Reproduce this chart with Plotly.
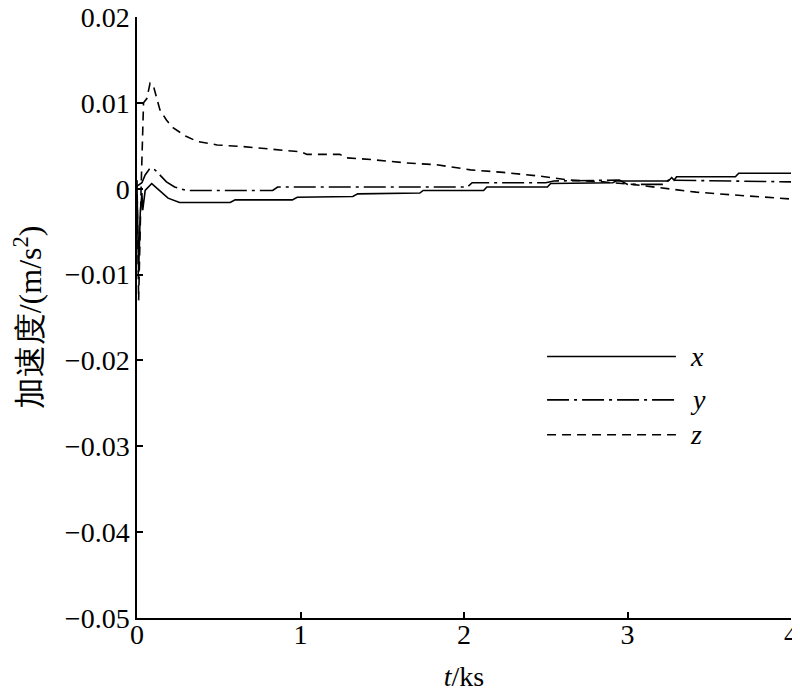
import plotly.graph_objects as go

# time in ks
t_x = [0, 0.01, 0.02, 0.03, 0.035, 0.05, 0.09, 0.19, 0.26, 0.57, 0.60, 0.95, 0.98, 1.32, 1.35,
       1.73, 1.75, 2.12, 2.14, 2.51, 2.53, 2.91, 2.93, 3.25, 3.27, 3.285, 3.30, 3.66, 3.68, 4.0]
acc_x = [0.0, -0.0097, -0.0028, -0.0005, -0.0025, -0.0002, 0.0006, -0.0011, -0.0016, -0.0016,
         -0.0013, -0.0013, -0.0010, -0.0009, -0.0006, -0.0005, -0.0002, -0.0002, 0.0002, 0.0002,
         0.0006, 0.0007, 0.0009, 0.0009, 0.0013, 0.0010, 0.0014, 0.0014, 0.0018, 0.0018]

t_y = [0, 0.03, 0.05, 0.08, 0.11, 0.18, 0.23, 0.30, 0.83, 0.86, 2.02, 2.05, 2.50, 2.55, 2.95,
       3.00, 3.22, 3.25, 4.0]
acc_y = [0.0003, 0.0007, 0.0016, 0.0024, 0.0022, 0.0008, 0.0002, -0.0002, -0.0002, 0.0002,
         0.0002, 0.0007, 0.0007, 0.0009, 0.0010, 0.0005, 0.0005, 0.0010, 0.0008]

t_z = [0, 0.01, 0.025, 0.04, 0.06, 0.08, 0.10, 0.14, 0.18, 0.22, 0.30, 0.37, 0.49, 0.65, 1.00,
       1.04, 1.24, 1.28, 1.43, 1.65, 1.83, 2.04, 2.24, 2.45, 2.65, 2.85, 3.03, 3.22, 3.42, 3.63,
       3.83, 4.0]
acc_z = [0.001, -0.013, 0.0, 0.010, 0.0105, 0.0123, 0.0120, 0.0092, 0.0080, 0.0071, 0.0061,
         0.0055, 0.0051, 0.0049, 0.0043, 0.0040, 0.0040, 0.0036, 0.0034, 0.0030, 0.0028, 0.0022,
         0.0019, 0.0015, 0.0010, 0.0008, 0.0005, 0.0001, -0.0004, -0.0007, -0.0010, -0.0012]

series_names = ["x", "y", "z"]
dashes = ["solid", "22px,5px,3px,5px", "9px,6px"]

x_ticks = [0, 1, 2, 3, 4]
y_ticks = [0.02, 0.01, 0, -0.01, -0.02, -0.03, -0.04, -0.05]

FONT = "Liberation Serif"

fig = go.Figure()
for tt, vv, dash in zip([t_x, t_y, t_z], [acc_x, acc_y, acc_z], dashes):
    fig.add_trace(go.Scatter(x=tt, y=vv, mode="lines",
                             line=dict(color="black", width=1.6, dash=dash),
                             showlegend=False))

# custom legend (long line samples)
leg_rows = [0.435, 0.363, 0.305]
for name, dash, yy in zip(series_names, dashes, leg_rows):
    fig.add_shape(type="line", xref="paper", yref="paper", x0=0.627, x1=0.824, y0=yy, y1=yy,
                  line=dict(color="black", width=1.6, dash=dash))
    fig.add_annotation(xref="paper", yref="paper", x=0.842, y=yy, xanchor="left",
                       yanchor="middle", text="<i>%s</i>" % name, showarrow=False,
                       font=dict(family=FONT, size=28, color="black"))

axis_common = dict(showline=True, linecolor="black", linewidth=1.5, ticks="inside",
                   ticklen=6, tickwidth=1.5, tickcolor="black", showgrid=False,
                   zeroline=False, mirror=False, automargin=False,
                   ticklabeloverflow="allow",
                   tickfont=dict(family=FONT, size=28, color="black"))

fig.update_xaxes(range=[0, 4], tickvals=x_ticks, ticktext=[str(v) for v in x_ticks],
                 ticklabelstandoff=-9,
                 title=dict(text="<i>t</i>/ks", font=dict(family=FONT, size=28, color="black"),
                            standoff=17), **axis_common)
fig.update_yaxes(range=[-0.05, 0.02], tickvals=y_ticks,
                 ticktext=[("\u2212" + f"{abs(v):g}") if v < 0 else f"{v:g}" for v in y_ticks],
                 title=dict(text="加速度/(m/s<sup>2</sup>)",
                            font=dict(family=FONT, size=32, color="black"), standoff=24),
                 **axis_common)

fig.update_layout(width=800, height=695, plot_bgcolor="white", paper_bgcolor="white",
                  margin=dict(l=129, r=17, t=9, b=85), showlegend=False)

fig.write_html("out.html")
